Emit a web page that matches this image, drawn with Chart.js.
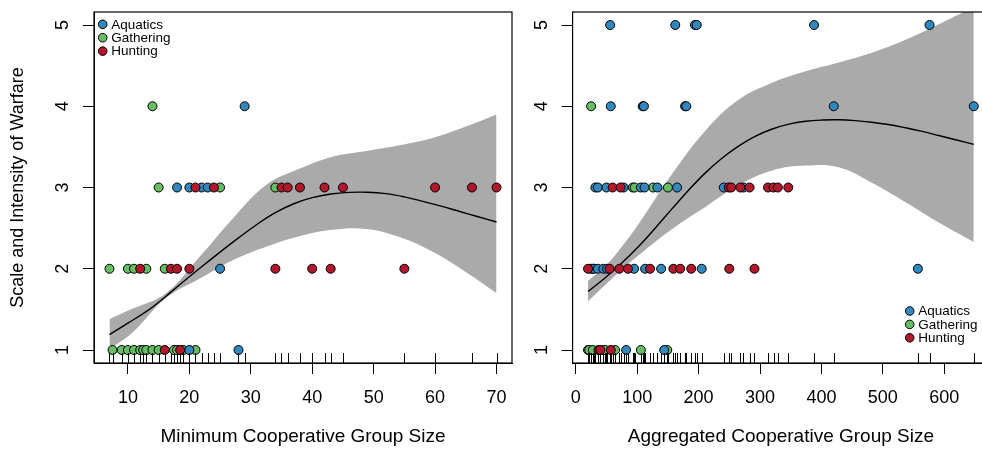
<!DOCTYPE html>
<html>
<head>
<meta charset="utf-8">
<script src="https://cdn.jsdelivr.net/npm/chart.js@4.4.1/dist/chart.umd.min.js"></script>
<style>
  html, body { margin: 0; padding: 0; background: #fff; overflow: hidden; }
  body { width: 982px; height: 452px; position: relative; }
  canvas { position: absolute; top: 0; }
  #minChart { left: 0; }
  #aggChart { left: 530px; }
</style>
</head>
<body>
<canvas id="minChart" width="530" height="452"></canvas>
<canvas id="aggChart" width="500" height="452"></canvas>
<script>
// ---- data ----
const categories = ['Aquatics', 'Gathering', 'Hunting'];
const catColors = ['#3288BD', '#66BD63', '#B2182B'];
const warfareTicks = [1, 2, 3, 4, 5];
const minTicks = [10, 20, 30, 40, 50, 60, 70];
const aggTicks = [0, 100, 200, 300, 400, 500, 600];

// left panel: minimum cooperative group size
const minAquaticsX = [29, 18, 20, 22, 23, 25, 20, 28];
const minAquaticsY = [4, 3, 3, 3, 3, 2, 1, 1];
const minGatheringX = [14, 15, 25, 34, 7, 10, 11, 13, 16, 7.5, 9, 10, 11, 12, 12.5, 13, 14, 15, 17.5, 18, 19, 21];
const minGatheringY = [4, 3, 3, 3, 2, 2, 2, 2, 2, 1, 1, 1, 1, 1, 1, 1, 1, 1, 1, 1, 1, 1];
const minHuntingX = [21, 24, 35, 36, 38, 42, 45, 60, 66, 70, 12, 17, 18, 20, 34, 40, 43, 55, 16, 18.5];
const minHuntingY = [3, 3, 3, 3, 3, 3, 3, 3, 3, 3, 2, 2, 2, 2, 2, 2, 2, 2, 1, 1];

const minFitX = [7, 10, 13.5, 16, 19, 22, 25, 28, 31, 34, 37, 40, 43, 46, 49, 52, 55, 58, 61, 64, 67, 70];
const minFitY = [1.19, 1.33, 1.50, 1.65, 1.84, 2.025, 2.205, 2.38, 2.545, 2.69, 2.80, 2.875, 2.92, 2.94, 2.942, 2.925, 2.885, 2.83, 2.77, 2.705, 2.64, 2.575];
const minBandX = [7, 10.8, 16.2, 21.7, 27.1, 32.5, 37.9, 43.3, 48.8, 54.2, 59.6, 65, 70];
const minUpper = [1.38, 1.51, 1.70, 2.15, 2.62, 3.03, 3.23, 3.38, 3.45, 3.52, 3.61, 3.75, 3.90];
const minLower = [1.01, 1.22, 1.64, 1.88, 2.105, 2.27, 2.40, 2.48, 2.49, 2.39, 2.21, 1.96, 1.70];

// right panel: aggregated cooperative group size
const aggAquaticsX = [56, 162, 194, 197, 388, 576, 57, 109, 111, 178, 180, 420, 648,
  32, 36, 50, 78, 106, 112, 133, 165, 241, 273, 30, 36, 45, 51, 95, 113, 139, 205, 557, 82, 144];
const aggAquaticsY = [5, 5, 5, 5, 5, 5, 4, 4, 4, 4, 4, 4, 4,
  3, 3, 3, 3, 3, 3, 3, 3, 3, 3, 2, 2, 2, 2, 2, 2, 2, 2, 2, 1, 1];
const aggGatheringX = [25, 93, 96, 126, 150, 25, 28, 20, 22, 28, 45, 48, 64, 106, 149];
const aggGatheringY = [4, 3, 3, 3, 3, 2, 2, 1, 1, 1, 1, 1, 1, 1, 1];
const aggHuntingX = [60, 73, 249, 253, 268, 283, 313, 322, 329, 346,
  20, 55, 71, 85, 121, 159, 170, 188, 250, 291, 37, 40, 57];
const aggHuntingY = [3, 3, 3, 3, 3, 3, 3, 3, 3, 3, 2, 2, 2, 2, 2, 2, 2, 2, 2, 2, 1, 1, 1];

const aggFitX = [20, 48, 75, 103, 130, 157, 184, 211, 238, 265, 292, 320, 347, 374, 401, 428, 455, 482, 509, 537, 564, 591, 620, 648];
const aggFitY = [1.72, 1.89, 2.07, 2.28, 2.505, 2.74, 2.97, 3.18, 3.36, 3.51, 3.63, 3.72, 3.78, 3.815, 3.83, 3.833, 3.823, 3.803, 3.775, 3.735, 3.69, 3.64, 3.585, 3.53];
const aggBandX = [20, 48, 75, 103, 157, 211, 265, 320, 374, 428, 482, 537, 591, 648];
const aggUpper = [1.85, 2.03, 2.27, 2.56, 3.17, 3.70, 4.08, 4.29, 4.43, 4.54, 4.66, 4.82, 5.01, 5.22];
const aggLower = [1.60, 1.80, 1.99, 2.17, 2.49, 2.76, 3.03, 3.21, 3.27, 3.25, 3.06, 2.82, 2.57, 2.33];

Chart.defaults.font.family = '"Liberation Sans", Arial, Helvetica, sans-serif';
Chart.defaults.color = '#000';

function pts(xs, ys) {
    return xs.map((v, i) => ({x: v, y: ys[i]}));
}

// rug, box, rotated y labels and the little legend, R style
const rDeco = {
    id: 'rDeco',
    afterDraw(chart, args, opts) {
        const {ctx, chartArea: a, scales: {x, y}} = chart;
        ctx.save();
        ctx.strokeStyle = '#000';
        ctx.lineWidth = 1;

        // rug along the bottom
        ctx.beginPath();
        opts.rug.forEach(v => {
            const px = Math.round(x.getPixelForValue(v)) + 0.5;
            ctx.moveTo(px, a.bottom);
            ctx.lineTo(px, a.bottom - 10);
        });
        ctx.stroke();

        // box round the plot region
        ctx.lineWidth = 1.2;
        ctx.strokeRect(a.left, a.top, a.right - a.left, a.bottom - a.top);

        // y tick labels, parallel to the axis
        ctx.fillStyle = '#000';
        ctx.font = '18px "Liberation Sans", Arial, sans-serif';
        ctx.textAlign = 'center';
        ctx.textBaseline = 'middle';
        warfareTicks.forEach(v => {
            ctx.save();
            ctx.translate(a.left - 31, y.getPixelForValue(v));
            ctx.rotate(-Math.PI / 2);
            ctx.fillText(String(v), 0, 0);
            ctx.restore();
        });

        // legend
        ctx.font = '13.5px "Liberation Sans", Arial, sans-serif';
        ctx.textAlign = 'left';
        ctx.lineWidth = 1;
        categories.forEach((c, i) => {
            const cx = opts.corner === 'topleft' ? a.left + 8.7 : a.right - 79.5;
            const cy = (opts.corner === 'topleft' ? a.top + 12.3 : a.bottom - 52) + i * 13.4;
            ctx.beginPath();
            ctx.arc(cx, cy, 4.3, 0, Math.PI * 2);
            ctx.fillStyle = catColors[i];
            ctx.fill();
            ctx.stroke();
            ctx.fillStyle = '#000';
            ctx.fillText(c, cx + 8.5, cy + 0.5);
        });
        ctx.restore();
    }
};

function buildChart(canvas, d) {
    const pointSet = (label, xs, ys, idx, order) => ({
        label: label,
        data: pts(xs, ys),
        backgroundColor: catColors[idx],
        borderColor: '#000',
        borderWidth: 1,
        pointRadius: 4.5,
        order: order
    });
    const lineSet = (xs, ys, extra) => Object.assign({
        data: pts(xs, ys),
        showLine: true,
        pointRadius: 0,
        tension: 0.4
    }, extra);

    const datasets = [
        lineSet(d.bandX, d.upper, {fill: '+1', backgroundColor: '#AAAAAA', borderColor: 'rgba(0,0,0,0)', borderWidth: 0, order: 5}),
        lineSet(d.bandX, d.lower, {fill: false, borderColor: 'rgba(0,0,0,0)', borderWidth: 0, order: 5}),
        lineSet(d.fitX, d.fitY, {fill: false, borderColor: '#000', borderWidth: 1.4, order: 4}),
        pointSet('Gathering', d.gaX, d.gaY, 1, 3),
        pointSet('Aquatics', d.aqX, d.aqY, 0, 2),
        pointSet('Hunting', d.huX, d.huY, 2, 1)
    ];

    const gridOpts = {drawOnChartArea: false, drawTicks: true, tickLength: 11, color: '#000', lineWidth: 1};
    const borderOpts = {display: true, color: '#000', width: 1};

    new Chart(document.getElementById(canvas), {
        type: 'scatter',
        data: {datasets: datasets},
        options: {
            responsive: false,
            animation: false,
            devicePixelRatio: 1,
            events: [],
            layout: {padding: {left: 0, right: d.padRight, top: 12, bottom: 0}},
            plugins: {
                legend: {display: false},
                tooltip: {enabled: false},
                rDeco: {rug: d.aqX.concat(d.gaX, d.huX), corner: d.corner}
            },
            scales: {
                x: {
                    type: 'linear',
                    min: d.xMin,
                    max: d.xMax,
                    afterBuildTicks: s => { s.ticks = d.xTicks.map(v => ({value: v})); },
                    afterFit: s => { s.height = 89; },
                    grid: gridOpts,
                    border: borderOpts,
                    ticks: {padding: 13, color: '#000', font: {size: 18}},
                    title: {display: true, text: d.xTitle, color: '#000', font: {size: 19}, padding: {top: 0, bottom: 4}}
                },
                y: {
                    type: 'linear',
                    min: 0.84,
                    max: 5.16,
                    afterBuildTicks: s => { s.ticks = warfareTicks.map(v => ({value: v})); },
                    afterFit: s => { s.width = d.yWidth; },
                    grid: gridOpts,
                    border: borderOpts,
                    ticks: {display: false},
                    title: {display: d.yTitle, text: 'Scale and Intensity of Warfare', color: '#000', font: {size: 18}, padding: {top: 7, bottom: 0}}
                }
            }
        },
        plugins: [rDeco]
    });
}

buildChart('minChart', {
    aqX: minAquaticsX, aqY: minAquaticsY, gaX: minGatheringX, gaY: minGatheringY, huX: minHuntingX, huY: minHuntingY,
    fitX: minFitX, fitY: minFitY, bandX: minBandX, upper: minUpper, lower: minLower,
    xMin: 4.48, xMax: 72.52, xTicks: minTicks, xTitle: 'Minimum Cooperative Group Size',
    yWidth: 94, padRight: 18, yTitle: true, corner: 'topleft'
});

buildChart('aggChart', {
    aqX: aggAquaticsX, aqY: aggAquaticsY, gaX: aggGatheringX, gaY: aggGatheringY, huX: aggHuntingX, huY: aggHuntingY,
    fitX: aggFitX, fitY: aggFitY, bandX: aggBandX, upper: aggUpper, lower: aggLower,
    xMin: -5.12, xMax: 673.12, xTicks: aggTicks, xTitle: 'Aggregated Cooperative Group Size',
    yWidth: 42.6, padRight: 40.8, yTitle: false, corner: 'bottomright'
});
</script>
</body>
</html>
